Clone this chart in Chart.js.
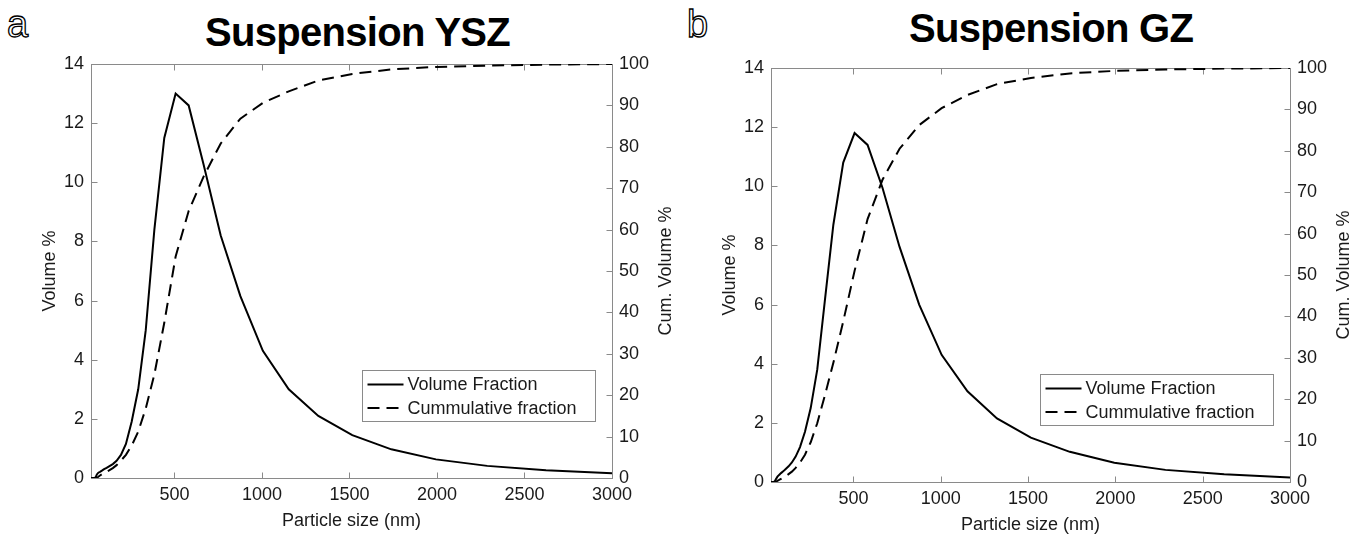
<!DOCTYPE html>
<html>
<head>
<meta charset="utf-8">
<script src="https://cdn.jsdelivr.net/npm/chart.js@4.4.1/dist/chart.umd.min.js"></script>
<style>
html,body{margin:0;padding:0;background:#fff;width:1367px;height:537px;overflow:hidden;}
.wrap{position:absolute;top:0;}
.title{position:absolute;font-family:"Liberation Sans",Arial,Helvetica,sans-serif;font-weight:bold;font-size:40px;line-height:40px;letter-spacing:-0.7px;color:#000;white-space:nowrap;}
.tag{position:absolute;font-family:"Liberation Sans",Arial,Helvetica,sans-serif;font-size:38px;line-height:40px;color:#fff;-webkit-text-stroke:1.3px #000;}
</style>
</head>
<body>
<div class="tag" style="left:7px;top:4px">a</div>
<div class="title" id="ta" style="left:205px;top:12px"></div>
<div class="tag" style="left:687px;top:4px">b</div>
<div class="title" id="tb" style="left:909px;top:8px"></div>
<div class="wrap" style="left:0;width:683px;height:537px"><canvas id="ca" width="683" height="537"></canvas></div>
<div class="wrap" style="left:683px;width:684px;height:537px"><canvas id="cb" width="684" height="537"></canvas></div>
<script>
// ---- data ----
const sizesNm = [21.7, 24.9, 28.5, 32.7, 37.5, 43.0, 49.3, 56.6, 64.9, 74.4, 85.3, 97.8, 112.2, 128.7, 147.6, 169.2, 194.1, 222.6, 255.3, 292.8, 335.8, 385.1, 441.7, 506.6, 581.0, 666.3, 764.2, 876.5, 1005, 1153, 1322, 1516, 1739, 1994, 2287, 2623, 3008];
const volumeYSZ = [0, 0, 0, 0, 0, 0, 0.02, 0.12, 0.18, 0.21, 0.25, 0.30, 0.34, 0.40, 0.47, 0.58, 0.78, 1.15, 1.9, 3.0, 5.0, 8.4, 11.5, 13.0, 12.6, 10.6, 8.2, 6.15, 4.3, 3.0, 2.1, 1.45, 0.97, 0.63, 0.41, 0.26, 0.16];
const cumulYSZ  = [0, 0, 0, 0, 0, 0, 0, 0.05, 0.3, 0.6, 0.9, 1.2, 1.5, 1.9, 2.4, 3.1, 4.2, 5.6, 7.8, 11.2, 16.8, 25.0, 37.5, 53.5, 64.5, 72.8, 80.8, 86.8, 90.6, 93.4, 96.0, 97.6, 98.7, 99.3, 99.6, 99.85, 100];
const volumeGZ  = [0, 0, 0, 0, 0, 0, 0.02, 0.10, 0.18, 0.24, 0.30, 0.36, 0.44, 0.53, 0.66, 0.86, 1.18, 1.7, 2.5, 3.8, 6.1, 8.7, 10.8, 11.8, 11.4, 9.95, 7.95, 6.0, 4.3, 3.07, 2.15, 1.5, 1.02, 0.65, 0.41, 0.26, 0.15];
const cumulGZ   = [0, 0, 0, 0, 0, 0, 0, 0.05, 0.3, 0.5, 0.75, 1.05, 1.4, 1.9, 2.5, 3.4, 4.7, 6.6, 9.6, 14.2, 20.8, 28.8, 38.8, 51.0, 63.5, 73.0, 80.5, 86.2, 90.3, 93.5, 96.1, 97.6, 98.7, 99.3, 99.65, 99.85, 100];
const xTicks = [500, 1000, 1500, 2000, 2500, 3000];
const volTicks = [0, 2, 4, 6, 8, 10, 12, 14];
const cumTicks = [0, 10, 20, 30, 40, 50, 60, 70, 80, 90, 100];
const seriesNames = ['Volume Fraction', 'Cummulative fraction'];
const panelTitles = ['Suspension YSZ', 'Suspension GZ'];
const xTitle = 'Particle size (nm)';
const yTitle = 'Volume %';
const y2Title = 'Cum. Volume %';

document.getElementById('ta').textContent = panelTitles[0];
document.getElementById('tb').textContent = panelTitles[1];

const FONT = '"Liberation Sans", Arial, Helvetica, sans-serif';
const AXIS_COL = '#8a8a8a';
const TEXT_COL = '#1a1a1a';
const DASH = [12, 7];

function pts(ys) { return sizesNm.map((x, i) => ({ x: x, y: ys[i] })); }
const plain = v => String(v);

const framePlugin = {
  id: 'matlabFrame',
  beforeDatasetsDraw(chart) {
    const { ctx, chartArea: a, scales } = chart;
    ctx.save();
    ctx.strokeStyle = AXIS_COL; ctx.lineWidth = 1;
    const L = Math.round(a.left) + 0.5, R = Math.round(a.right) + 0.5;
    const T = Math.round(a.top) + 0.5, B = Math.round(a.bottom) + 0.5;
    ctx.strokeRect(L, T, R - L, B - T);
    const tl = 6;
    ctx.beginPath();
    xTicks.forEach(v => {
      const px = Math.round(scales.x.getPixelForValue(v)) + 0.5;
      ctx.moveTo(px, B); ctx.lineTo(px, B - tl);
      ctx.moveTo(px, T); ctx.lineTo(px, T + tl);
    });
    volTicks.forEach(v => {
      const py = Math.round(scales.y.getPixelForValue(v)) + 0.5;
      ctx.moveTo(L, py); ctx.lineTo(L + tl, py);
    });
    cumTicks.forEach(v => {
      const py = Math.round(scales.y2.getPixelForValue(v)) + 0.5;
      ctx.moveTo(R, py); ctx.lineTo(R - tl, py);
    });
    ctx.stroke();
    ctx.restore();
  },
  afterDraw(chart) {
    const { ctx, chartArea: a } = chart;
    ctx.save();
    ctx.font = '18px ' + FONT;
    ctx.fillStyle = TEXT_COL;
    ctx.textAlign = 'center';
    ctx.textBaseline = 'middle';
    const mid = (a.top + a.bottom) / 2;
    ctx.fillText(xTitle, (a.left + a.right) / 2, a.bottom + 43);
    ctx.save(); ctx.translate(a.left - 41, mid); ctx.rotate(-Math.PI / 2); ctx.fillText(yTitle, 0, 0); ctx.restore();
    ctx.save(); ctx.translate(a.right + 54, mid); ctx.rotate(-Math.PI / 2); ctx.fillText(y2Title, 0, 0); ctx.restore();
    const w = 233, h = 51;
    const bx = Math.round(a.right - 17 - w) + 0.5, by = Math.round(a.bottom - 57 - h) + 0.5;
    ctx.fillStyle = '#fff';
    ctx.fillRect(bx, by, w, h);
    ctx.strokeStyle = AXIS_COL; ctx.lineWidth = 1;
    ctx.strokeRect(bx, by, w, h);
    const rows = [by + 14, by + 37.5];
    chart.data.datasets.forEach((ds, i) => {
      ctx.beginPath();
      ctx.strokeStyle = '#000'; ctx.lineWidth = 2;
      ctx.setLineDash(ds.borderDash || []);
      ctx.moveTo(bx + 5, rows[i]); ctx.lineTo(bx + 41, rows[i]);
      ctx.stroke();
      ctx.setLineDash([]);
      ctx.fillStyle = TEXT_COL;
      ctx.textAlign = 'left';
      ctx.fillText(ds.label, bx + 45, rows[i] + 1);
    });
    ctx.restore();
  }
};

function makeChart(id, vol, cum, geo) {
  const tickFont = { family: FONT, size: 18 };
  return new Chart(document.getElementById(id), {
    type: 'line',
    data: {
      datasets: [
        { label: seriesNames[0], data: pts(vol), yAxisID: 'y', borderColor: '#000', borderWidth: 2, pointRadius: 0, tension: 0, fill: false },
        { label: seriesNames[1], data: pts(cum), yAxisID: 'y2', borderColor: '#000', borderWidth: 2, borderDash: DASH, pointRadius: 0, tension: 0, fill: false }
      ]
    },
    options: {
      responsive: false, animation: false, events: [],
      layout: { padding: { top: geo.top, left: 0, right: 0, bottom: 0 } },
      plugins: { legend: { display: false }, title: { display: false }, tooltip: { enabled: false } },
      scales: {
        x: {
          type: 'linear', min: geo.xmin, max: 3000,
          grid: { display: false, drawTicks: false }, border: { display: false },
          afterBuildTicks: s => { s.ticks = xTicks.map(v => ({ value: v })); },
          afterFit: s => { s.height = geo.xh; },
          ticks: { font: tickFont, color: TEXT_COL, padding: 6, maxRotation: 0, autoSkip: false, callback: plain }
        },
        y: {
          position: 'left', min: 0, max: 14,
          grid: { display: false, drawTicks: false }, border: { display: false },
          afterBuildTicks: s => { s.ticks = volTicks.map(v => ({ value: v })); },
          afterFit: s => { s.width = geo.lw; },
          ticks: { font: tickFont, color: TEXT_COL, padding: 7, callback: plain }
        },
        y2: {
          position: 'right', min: 0, max: 100,
          grid: { display: false, drawTicks: false }, border: { display: false },
          afterBuildTicks: s => { s.ticks = cumTicks.map(v => ({ value: v })); },
          afterFit: s => { s.width = geo.rw; },
          ticks: { font: tickFont, color: TEXT_COL, padding: 7, callback: plain }
        }
      }
    },
    plugins: [framePlugin]
  });
}

makeChart('ca', volumeYSZ, cumulYSZ, { top: 64, xh: 59, lw: 91, rw: 71, xmin: 23 });
makeChart('cb', volumeGZ, cumulGZ, { top: 68, xh: 55, lw: 88, rw: 77, xmin: 28 });
</script>
</body>
</html>
